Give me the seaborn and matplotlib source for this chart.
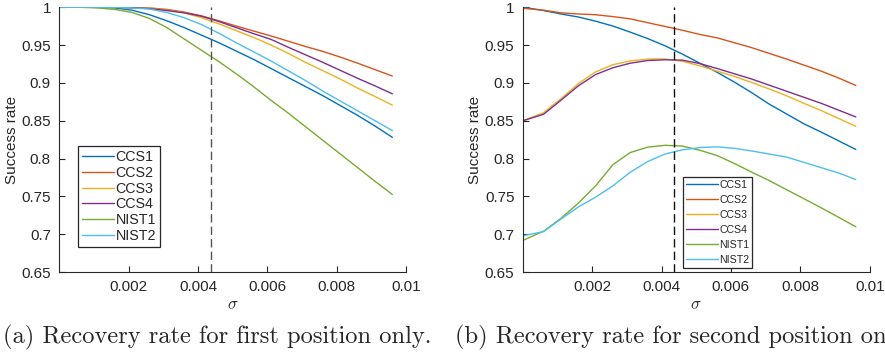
import matplotlib
matplotlib.use('Agg')
import matplotlib.pyplot as plt
import seaborn as sns
import pandas as pd

# sigma grid (shared by both panels)
sigma = [0.00001, 0.0006, 0.0011, 0.0016, 0.0021, 0.0026, 0.0031, 0.0036, 0.0041, 0.0046,
         0.0051, 0.0056, 0.0061, 0.0066, 0.0071, 0.0076, 0.0081, 0.0086, 0.0091, 0.0096]

methods = ['CCS1', 'CCS2', 'CCS3', 'CCS4', 'NIST1', 'NIST2']
colors = ['#0072BD', '#D95319', '#EDB120', '#7E2F8E', '#77AC30', '#4DBEEE']

# (a) first position only
first_ccs1 = [1.0, 1.0, 0.9997, 0.999, 0.996, 0.990, 0.982, 0.973, 0.963, 0.953,
              0.942, 0.931, 0.919, 0.907, 0.895, 0.883, 0.870, 0.857, 0.843, 0.828]
first_ccs2 = [1.0, 1.0, 1.0, 0.9998, 0.999, 0.999, 0.997, 0.9935, 0.9885, 0.982,
              0.975, 0.9685, 0.962, 0.955, 0.948, 0.9415, 0.934, 0.926, 0.9175, 0.909]
first_ccs3 = [1.0, 1.0, 1.0, 0.9998, 0.9995, 0.9985, 0.996, 0.9925, 0.986, 0.978,
              0.969, 0.960, 0.950, 0.939, 0.927, 0.916, 0.905, 0.893, 0.882, 0.8705]
first_ccs4 = [1.0, 1.0, 1.0, 1.0, 0.9995, 0.998, 0.9955, 0.9925, 0.988, 0.981,
              0.973, 0.965, 0.9575, 0.947, 0.937, 0.927, 0.9165, 0.906, 0.896, 0.8855]
first_nist1 = [1.0, 0.9998, 0.999, 0.997, 0.993, 0.985, 0.973, 0.958, 0.943, 0.928,
               0.912, 0.895, 0.877, 0.860, 0.842, 0.824, 0.806, 0.788, 0.770, 0.7525]
first_nist2 = [1.0, 1.0, 0.9999, 0.9998, 0.999, 0.9975, 0.993, 0.986, 0.977, 0.9655,
               0.953, 0.941, 0.929, 0.916, 0.903, 0.889, 0.876, 0.863, 0.850, 0.837]

# (b) second position only
second_ccs1 = [1.0, 0.9955, 0.991, 0.987, 0.9815, 0.975, 0.967, 0.9585, 0.949, 0.938,
               0.926, 0.914, 0.901, 0.887, 0.872, 0.859, 0.846, 0.835, 0.8235, 0.812]
second_ccs2 = [0.9985, 0.996, 0.9925, 0.991, 0.990, 0.9875, 0.9845, 0.9795, 0.9745, 0.9695,
               0.964, 0.9595, 0.953, 0.9465, 0.939, 0.9315, 0.9235, 0.9155, 0.9065, 0.8965]
second_ccs3 = [0.850, 0.8605, 0.879, 0.899, 0.9145, 0.924, 0.929, 0.9315, 0.9315, 0.9285,
               0.9225, 0.9155, 0.9085, 0.9005, 0.892, 0.883, 0.873, 0.8635, 0.853, 0.8425]
second_ccs4 = [0.850, 0.8585, 0.877, 0.896, 0.911, 0.920, 0.926, 0.9295, 0.9305, 0.930,
               0.9255, 0.919, 0.912, 0.905, 0.897, 0.889, 0.881, 0.873, 0.864, 0.855]
second_nist1 = [0.692, 0.704, 0.721, 0.741, 0.764, 0.792, 0.808, 0.815, 0.8175, 0.8165,
                0.811, 0.804, 0.7935, 0.782, 0.771, 0.759, 0.747, 0.735, 0.7225, 0.7098]
second_nist2 = [0.698, 0.7035, 0.720, 0.736, 0.749, 0.764, 0.782, 0.796, 0.806, 0.8115,
                0.8145, 0.8155, 0.8135, 0.810, 0.806, 0.802, 0.795, 0.788, 0.781, 0.7722]

yticks = [0.65, 0.7, 0.75, 0.8, 0.85, 0.9, 0.95, 1]
yticklabels = ['0.65', '0.7', '0.75', '0.8', '0.85', '0.9', '0.95', '1']
xticks = [0.002, 0.004, 0.006, 0.008, 0.01]
xticklabels = ['0.002', '0.004', '0.006', '0.008', '0.01']
threshold = 0.00437

captions = ['(a) Recovery rate for first position only.',
            '(b) Recovery rate for second position only.']


def to_long(series):
    rows = []
    for name, vals in zip(methods, series):
        for s, v in zip(sigma, vals):
            rows.append({'sigma': s, 'rate': v, 'method': name})
    return pd.DataFrame(rows)


sns.set_style('ticks')
plt.rcParams['font.family'] = ['Liberation Sans', 'DejaVu Sans']
plt.rcParams['mathtext.fontset'] = 'cm'

fig = plt.figure(figsize=(8.85, 3.58), dpi=100)
ax_a = fig.add_axes([0.067, 0.240, 0.392, 0.740])
ax_b = fig.add_axes([0.5907, 0.240, 0.392, 0.740])

panels = [
    (ax_a, [first_ccs1, first_ccs2, first_ccs3, first_ccs4, first_nist1, first_nist2]),
    (ax_b, [second_ccs1, second_ccs2, second_ccs3, second_ccs4, second_nist1, second_nist2]),
]

for ax, series in panels:
    df = to_long(series)
    sns.lineplot(data=df, x='sigma', y='rate', hue='method', hue_order=methods,
                 palette=colors, lw=1.0, legend=False, ax=ax)
    ax.set_xlim(0, 0.01)
    ax.set_ylim(0.65, 1)
    ax.set_xticks(xticks)
    ax.set_xticklabels(xticklabels)
    ax.set_yticks(yticks)
    ax.set_yticklabels(yticklabels)
    ax.tick_params(direction='in', length=4, width=0.8, colors='#262626',
                   labelsize=11, pad=6)
    sns.despine(ax=ax)
    for sp in ['left', 'bottom']:
        ax.spines[sp].set_color('#262626')
        ax.spines[sp].set_linewidth(0.8)
    ax.set_xlabel(r'$\sigma$', fontsize=12, color='#262626')
    ax.set_ylabel('Success rate', fontsize=11, color='#262626')
    ax.xaxis.set_label_coords(0.5, -0.095)
    ax.yaxis.set_label_coords(-0.117, 0.5)

leg_a = ax_a.legend(ax_a.get_lines()[:6], methods, loc='upper left',
                    bbox_to_anchor=(0.053, 0.476), fontsize=10.3, handlelength=2.25,
                    handletextpad=0.1, labelspacing=0.12, borderpad=0.3,
                    borderaxespad=0, fancybox=False, framealpha=1, edgecolor='#262626')
leg_b = ax_b.legend(ax_b.get_lines()[:6], methods, loc='upper left',
                    bbox_to_anchor=(0.4625, 0.359), fontsize=7.6, handlelength=3.0,
                    handletextpad=0.1, labelspacing=0.47, borderpad=0.3,
                    borderaxespad=0, fancybox=False, framealpha=1, edgecolor='#262626')
for leg in (leg_a, leg_b):
    leg.get_frame().set_linewidth(0.9)

ax_a.axvline(threshold, color='#555555', lw=1.0, ls=(0, (6, 3)))
ax_b.axvline(threshold, color='#111111', lw=1.0, ls=(0, (6, 3)))

fig.text(3 / 885, 0.058, captions[0], fontsize=17.6, family=['cmr10', 'DejaVu Serif'],
         ha='left', va='center')
fig.text(455 / 885, 0.058, captions[1], fontsize=17.6, family=['cmr10', 'DejaVu Serif'],
         ha='left', va='center')

fig.savefig('out.png', dpi=100)
